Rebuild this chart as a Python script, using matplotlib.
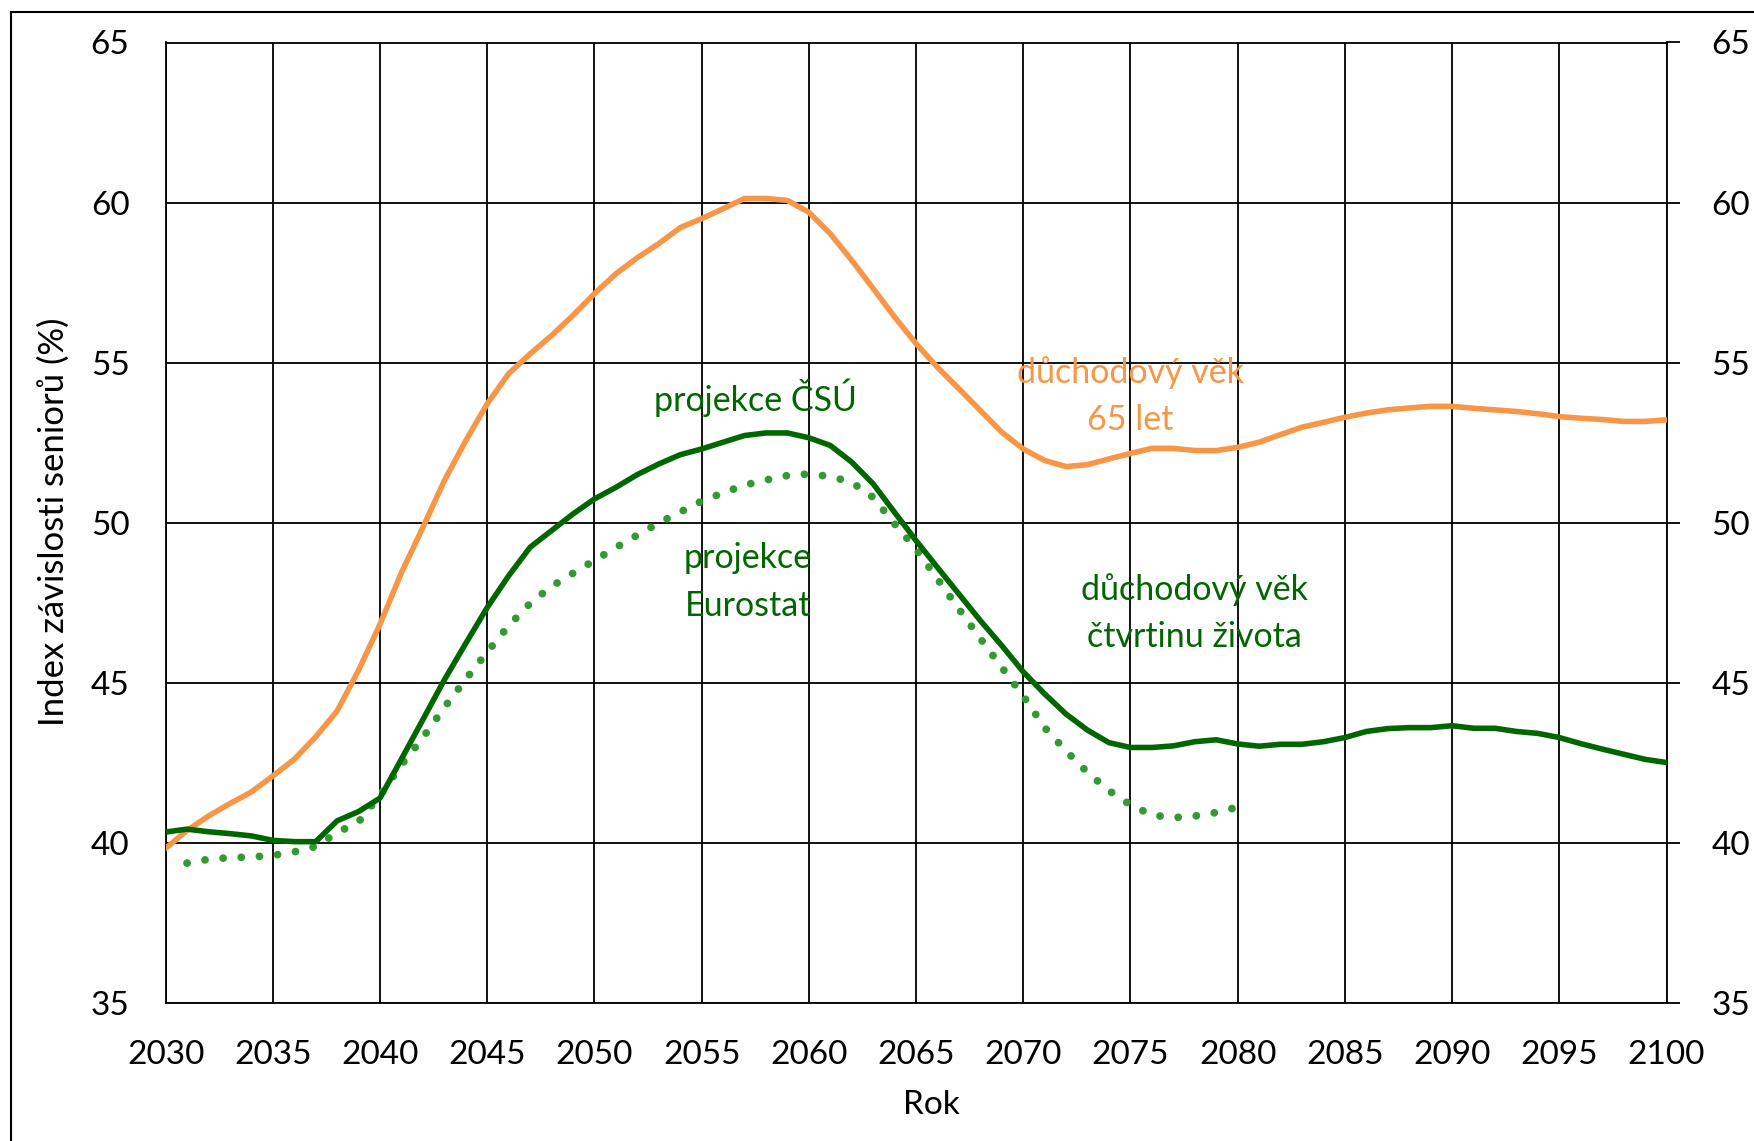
import matplotlib
matplotlib.use('Agg')
import matplotlib.pyplot as plt
from matplotlib.lines import Line2D

plt.rcParams['font.family'] = ['Lato', 'DejaVu Sans']

years = list(range(2030, 2101))

# duchodovy vek 65 let
vek65 = [39.84, 40.4, 40.85, 41.24, 41.6, 42.1, 42.62, 43.32, 44.13, 45.4,
         46.84, 48.45, 49.86, 51.32, 52.57, 53.72, 54.66, 55.28, 55.85, 56.48,
         57.16, 57.78, 58.28, 58.72, 59.22, 59.5, 59.81, 60.13, 60.13, 60.07,
         59.7, 59.03, 58.2, 57.32, 56.43, 55.6, 54.86, 54.19, 53.51, 52.83,
         52.31, 51.95, 51.76, 51.82, 52.0, 52.17, 52.33, 52.33, 52.26, 52.26,
         52.36, 52.52, 52.76, 52.99, 53.14, 53.3, 53.43, 53.53, 53.59, 53.64,
         53.64, 53.58, 53.53, 53.48, 53.41, 53.32, 53.27, 53.23, 53.17, 53.17,
         53.22]

# projekce CSU, duchodovy vek ctvrtinu zivota
csu = [40.35, 40.44, 40.36, 40.3, 40.23, 40.09, 40.05, 40.05, 40.7, 40.99,
       41.41, 42.63, 43.86, 45.1, 46.24, 47.36, 48.35, 49.24, 49.76, 50.28,
       50.75, 51.11, 51.51, 51.84, 52.13, 52.31, 52.52, 52.73, 52.81, 52.81,
       52.66, 52.42, 51.9, 51.22, 50.33, 49.45, 48.61, 47.78, 46.95, 46.17,
       45.35, 44.66, 44.03, 43.53, 43.14, 42.99, 42.99, 43.04, 43.17, 43.23,
       43.1, 43.03, 43.09, 43.09, 43.17, 43.3, 43.49, 43.58, 43.61, 43.61,
       43.67, 43.59, 43.59, 43.49, 43.43, 43.3, 43.11, 42.94, 42.78, 42.62,
       42.52]

# projekce Eurostat
years_euro = list(range(2031, 2081))
euro = [39.38, 39.5, 39.55, 39.57, 39.62, 39.73, 39.9, 40.33, 40.67,
        41.5, 42.45, 43.3, 44.24, 45.12, 45.97, 46.79, 47.49, 48.02, 48.43,
        48.83, 49.23, 49.62, 50.0, 50.34, 50.68, 50.94, 51.18, 51.34, 51.48,
        51.53, 51.45, 51.27, 50.8, 49.97, 49.19, 48.25, 47.31, 46.39, 45.49,
        44.6, 43.61, 42.88, 42.21, 41.64, 41.2, 40.88, 40.8, 40.85, 40.96,
        41.13]

orange = '#F79646'
dgreen = '#006600'
lgreen = '#339933'

W, H = 1754, 1141
fig = plt.figure(figsize=(W / 100, H / 100), dpi=100)
ax = fig.add_axes([165.6 / W, 1 - 1003.4 / H, (1666.5 - 165.6) / W, (1003.4 - 42.5) / H])

ax.plot(years, vek65, color=orange, lw=4, zorder=3)
ax.plot(years_euro, euro, color=lgreen, lw=5.6, linestyle=(0, (0.01, 2.33)),
        dash_capstyle='round', zorder=3)
ax.plot(years, csu, color=dgreen, lw=4, zorder=4)

ax.set_xlim(2030, 2100)
ax.set_ylim(35, 65)
ax.set_xticks(range(2030, 2101, 5))
ax.set_yticks(range(35, 66, 5))
ax.grid(True, color='black', lw=1.3)
ax.set_axisbelow(True)
for s in ax.spines.values():
    s.set_color('black')
    s.set_linewidth(1.3)
ax.tick_params(axis='x', length=0, pad=26, labelsize=24)
ax.tick_params(axis='y', length=0, pad=26, labelsize=24)

ax2 = ax.twinx()
ax2.set_ylim(35, 65)
ax2.set_yticks(range(35, 66, 5))
for s in ax2.spines.values():
    s.set_visible(False)
ax2.tick_params(axis='y', direction='out', length=9.4, width=1.3, pad=23, labelsize=24)


def px(x, y):
    # reference pixel -> data coordinates
    return 2030 + (x - 165.6) / 21.44, 65 - (y - 42.5) / 32.03


kw = dict(ha='center', va='center', fontsize=24.5, linespacing=1.6)
ax.text(*px(755, 398), 'projekce ČSÚ', color=dgreen, **kw)
ax.text(*px(748, 582), 'projekce\nEurostat', color=dgreen, **kw)
ax.text(*px(1130, 396), 'důchodový věk\n65 let', color=orange, **kw)
ax.text(*px(1194, 613), 'důchodový věk\nčtvrtinu života', color=dgreen, **kw)

fig.text(53.7 / W, 1 - 522 / H, 'Index závislosti seniorů (%)', rotation=90,
         ha='center', va='center', fontsize=25)
fig.text(931.8 / W, 1 - 1105 / H, 'Rok', ha='center', va='center', fontsize=24)

# outer chart frame (cropped on right and bottom)
fig.add_artist(Line2D([10.5 / W, 10.5 / W], [0, 1 - 11.7 / H], color='black', lw=1.5))
fig.add_artist(Line2D([10.5 / W, 1], [1 - 11.7 / H, 1 - 11.7 / H], color='black', lw=1.5))

fig.savefig('out.png', dpi=100)
